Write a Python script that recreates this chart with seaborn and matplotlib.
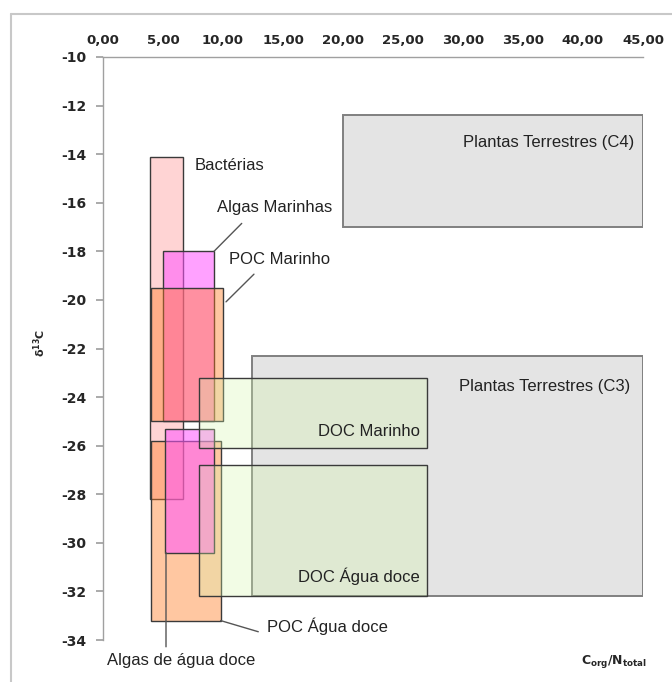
"""Campos de delta13C vs C/N para fontes de matéria orgânica (caixas sobrepostas)."""

import numpy as np
import matplotlib
matplotlib.use("Agg")
import matplotlib.pyplot as plt
from matplotlib.lines import Line2D
import seaborn as sns

# ── Data (range boxes: C/N min-max, delta13C min-max) ────────────────────────
GROUPS = ["Bactérias", "Algas Marinhas", "POC Marinho", "POC Água doce",
          "Algas de água doce", "Plantas Terrestres (C3)",
          "Plantas Terrestres (C4)", "DOC Marinho", "DOC Água doce"]
CN_MIN = [3.9, 5.0, 4.0, 4.0, 5.2, 12.4, 20.0, 8.0, 8.0]
CN_MAX = [6.7, 9.25, 10.0, 9.8, 9.25, 45.0, 45.0, 27.0, 27.0]
D13C_TOP = [-14.1, -18.0, -19.5, -25.8, -25.3, -22.3, -12.4, -23.2, -26.8]
D13C_BOTTOM = [-28.2, -25.0, -25.0, -33.2, -30.4, -32.2, -17.0, -26.1, -32.2]

X_TICKS = [0, 5, 10, 15, 20, 25, 30, 35, 40, 45]
Y_TICKS = [-10, -12, -14, -16, -18, -20, -22, -24, -26, -28, -30, -32, -34]

# ── Style ─────────────────────────────────────────────────────────────────────
FACE = {
    "Bactérias":               (1.00, 0.67, 0.67, 0.50),
    "Algas Marinhas":          (1.00, 0.33, 1.00, 0.55),
    "POC Marinho":             (1.00, 0.48, 0.13, 0.42),
    "POC Água doce":           (1.00, 0.48, 0.13, 0.42),
    "Algas de água doce":      (1.00, 0.33, 1.00, 0.55),
    "Plantas Terrestres (C3)": "#e4e4e4",
    "Plantas Terrestres (C4)": "#e4e4e4",
    "DOC Marinho":             (0.83, 0.97, 0.67, 0.30),
    "DOC Água doce":           (0.83, 0.97, 0.67, 0.30),
}
EDGE = {k: "#3a3a3a" for k in GROUPS}
EDGE["Plantas Terrestres (C3)"] = "#808080"
EDGE["Plantas Terrestres (C4)"] = "#808080"

LABEL_FONT = ["Liberation Sans Narrow", "Liberation Sans", "DejaVu Sans"]
LABEL_SIZE = 12
TXT = "#222222"

# label text position (data coords), alignment
LABELS = {
    "Bactérias":               (7.67, -14.47, "left"),
    "Plantas Terrestres (C4)": (44.25, -13.51, "right"),
    "Plantas Terrestres (C3)": (43.92, -23.55, "right"),
    "DOC Marinho":             (26.42, -25.41, "right"),
    "DOC Água doce":           (26.36, -31.39, "right"),
    "Algas Marinhas":          (9.47, -16.19, "left"),
    "POC Marinho":             (10.53, -18.32, "left"),
    "POC Água doce":           (13.64, -33.45, "left"),
    "Algas de água doce":      (0.31, -34.83, "left"),
}
# leader lines: (start near the text, end on the box)
LEADERS = [
    ((11.56, -16.85), (9.25, -18.0)),
    ((12.58, -18.94), (10.25, -20.08)),
    ((12.94, -33.66), (9.8, -33.2)),
    ((5.25, -34.28), (5.25, -30.4)),
]

sns.set_theme(style="white")
plt.rcParams["axes.unicode_minus"] = False
plt.rcParams["font.family"] = ["DejaVu Sans"]

fig = plt.figure(figsize=(6.72, 6.82), dpi=100)
ax = fig.add_axes([103 / 672, 1 - 640 / 682, 540 / 672, 583 / 682])

lo = np.array(CN_MIN)
hi = np.array(CN_MAX)
top = np.array(D13C_TOP)
bot = np.array(D13C_BOTTOM)
lws = [1.4 if "Plantas" in g else 1.0 for g in GROUPS]

ax.bar(lo, top - bot, width=hi - lo, bottom=bot, align="edge",
       color=[FACE[g] for g in GROUPS], edgecolor=[EDGE[g] for g in GROUPS],
       linewidth=lws)

for name, (x, y, ha) in LABELS.items():
    ax.text(x, y, name, ha=ha, va="center", fontsize=LABEL_SIZE,
            family=LABEL_FONT, color=TXT, clip_on=False)

for start, end in LEADERS:
    ax.annotate("", xy=end, xytext=start, annotation_clip=False,
                arrowprops=dict(arrowstyle="-", color="#555555", lw=1.0,
                                shrinkA=0, shrinkB=0))

# axes
ax.set_xlim(0, 45)
ax.set_ylim(-34, -10)
ax.xaxis.tick_top()
ax.set_xticks(X_TICKS, [f"{v:.2f}".replace(".", ",") for v in X_TICKS],
              fontweight="bold", fontsize=9.5)
ax.set_yticks(Y_TICKS, [str(v) for v in Y_TICKS],
              fontweight="bold", fontsize=10)
ax.tick_params(axis="x", direction="in", length=4, color="#a0a0a0", pad=7,
               top=True, bottom=False)
ax.tick_params(axis="y", direction="out", length=5, color="#a0a0a0", pad=7,
               left=True)
sns.despine(ax=ax, top=False, right=True, bottom=True, left=False)
for s in ("top", "left"):
    ax.spines[s].set_color("#a0a0a0")
    ax.spines[s].set_linewidth(1.0)

fig.text(40 / 672, 1 - 343 / 682, r"δ$^{\mathbf{13}}$C", rotation=90,
         ha="center", va="center", fontsize=8, fontweight="bold")
fig.text(614 / 672, 1 - 662 / 682, r"C$_{\mathbf{org}}$/N$_{\mathbf{total}}$",
         ha="center", va="center", fontsize=9, fontweight="bold")

# outer chart frame
fig.add_artist(Line2D([11 / 672, 11 / 672], [0, 1 - 14 / 682],
                      color="#c8c8c8", lw=1.5))
fig.add_artist(Line2D([11 / 672, 1], [1 - 14 / 682, 1 - 14 / 682],
                      color="#c8c8c8", lw=1.5))

fig.savefig("out.png", dpi=100)
